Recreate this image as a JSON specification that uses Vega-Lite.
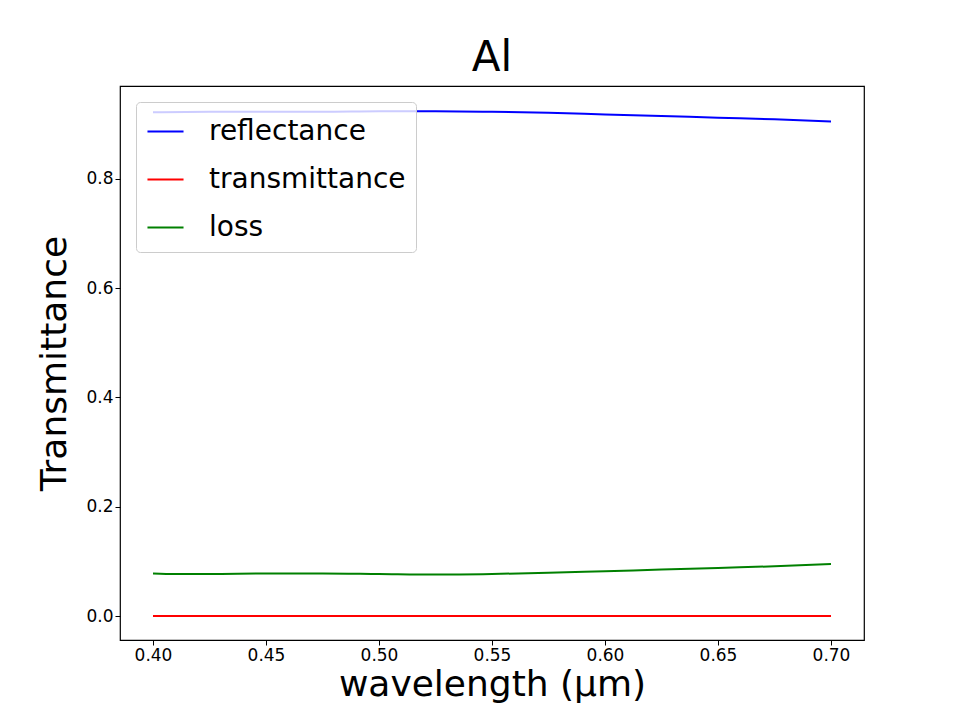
{
  "$schema": "https://vega.github.io/schema/vega-lite/v6.json",
  "width": 744,
  "height": 554,
  "autosize": {"type": "none"},
  "padding": {"left": 120, "top": 86, "right": 96, "bottom": 80},
  "background": "white",
  "title": {"text": "Al", "fontSize": 42, "font": "DejaVu Sans", "fontWeight": "normal", "offset": 6},
  "data": {
    "values": [
      {"w": 0.400, "s": "reflectance", "v": 0.922},
      {"w": 0.425, "s": "reflectance", "v": 0.923},
      {"w": 0.450, "s": "reflectance", "v": 0.923},
      {"w": 0.475, "s": "reflectance", "v": 0.923},
      {"w": 0.500, "s": "reflectance", "v": 0.924},
      {"w": 0.525, "s": "reflectance", "v": 0.924},
      {"w": 0.550, "s": "reflectance", "v": 0.923},
      {"w": 0.575, "s": "reflectance", "v": 0.921},
      {"w": 0.600, "s": "reflectance", "v": 0.918},
      {"w": 0.625, "s": "reflectance", "v": 0.915},
      {"w": 0.650, "s": "reflectance", "v": 0.912},
      {"w": 0.675, "s": "reflectance", "v": 0.909},
      {"w": 0.700, "s": "reflectance", "v": 0.905},
      {"w": 0.400, "s": "transmittance", "v": 0.0},
      {"w": 0.550, "s": "transmittance", "v": 0.0},
      {"w": 0.700, "s": "transmittance", "v": 0.0},
      {"w": 0.400, "s": "loss", "v": 0.078},
      {"w": 0.410, "s": "loss", "v": 0.077},
      {"w": 0.425, "s": "loss", "v": 0.077},
      {"w": 0.450, "s": "loss", "v": 0.078},
      {"w": 0.475, "s": "loss", "v": 0.078},
      {"w": 0.500, "s": "loss", "v": 0.077},
      {"w": 0.525, "s": "loss", "v": 0.076},
      {"w": 0.550, "s": "loss", "v": 0.077},
      {"w": 0.575, "s": "loss", "v": 0.079},
      {"w": 0.600, "s": "loss", "v": 0.082},
      {"w": 0.625, "s": "loss", "v": 0.085},
      {"w": 0.650, "s": "loss", "v": 0.088},
      {"w": 0.675, "s": "loss", "v": 0.091},
      {"w": 0.700, "s": "loss", "v": 0.095}
    ]
  },
  "mark": {"type": "line", "strokeWidth": 2, "interpolate": "monotone", "clip": true},
  "encoding": {
    "x": {
      "field": "w", "type": "quantitative", "title": "wavelength (µm)",
      "scale": {"domain": [0.3854, 0.7146], "nice": false, "zero": false},
      "axis": {"values": [0.4, 0.45, 0.5, 0.55, 0.6, 0.65, 0.7], "format": ".2f"}
    },
    "y": {
      "field": "v", "type": "quantitative", "title": "Transmittance",
      "scale": {"domain": [-0.0439, 0.970], "nice": false, "zero": false},
      "axis": {"values": [0, 0.2, 0.4, 0.6, 0.8], "format": ".1f"}
    },
    "color": {
      "field": "s", "type": "nominal", "title": null,
      "scale": {"domain": ["reflectance", "transmittance", "loss"], "range": ["#0000ff", "#ff0000", "#008000"]},
      "legend": {
        "orient": "top-left", "offset": 16, "symbolType": "stroke", "symbolSize": 1300,
        "symbolStrokeWidth": 2, "labelFontSize": 28, "labelFont": "DejaVu Sans",
        "fillColor": "rgba(255,255,255,0.8)", "strokeColor": "#cccccc", "cornerRadius": 4,
        "padding": 10, "rowPadding": 14, "labelOffset": 24, "labelLimit": 400
      }
    }
  },
  "config": {
    "view": {"stroke": "black", "strokeWidth": 1.2},
    "axis": {
      "grid": false, "domain": false, "tickColor": "black", "tickSize": 5,
      "labelFontSize": 17, "labelFont": "DejaVu Sans", "labelColor": "black",
      "titleFontSize": 36, "titleFont": "DejaVu Sans", "titleFontWeight": "normal", "titleColor": "black"
    },
    "axisX": {"titlePadding": 4},
    "axisY": {"titlePadding": 12}
  }
}
